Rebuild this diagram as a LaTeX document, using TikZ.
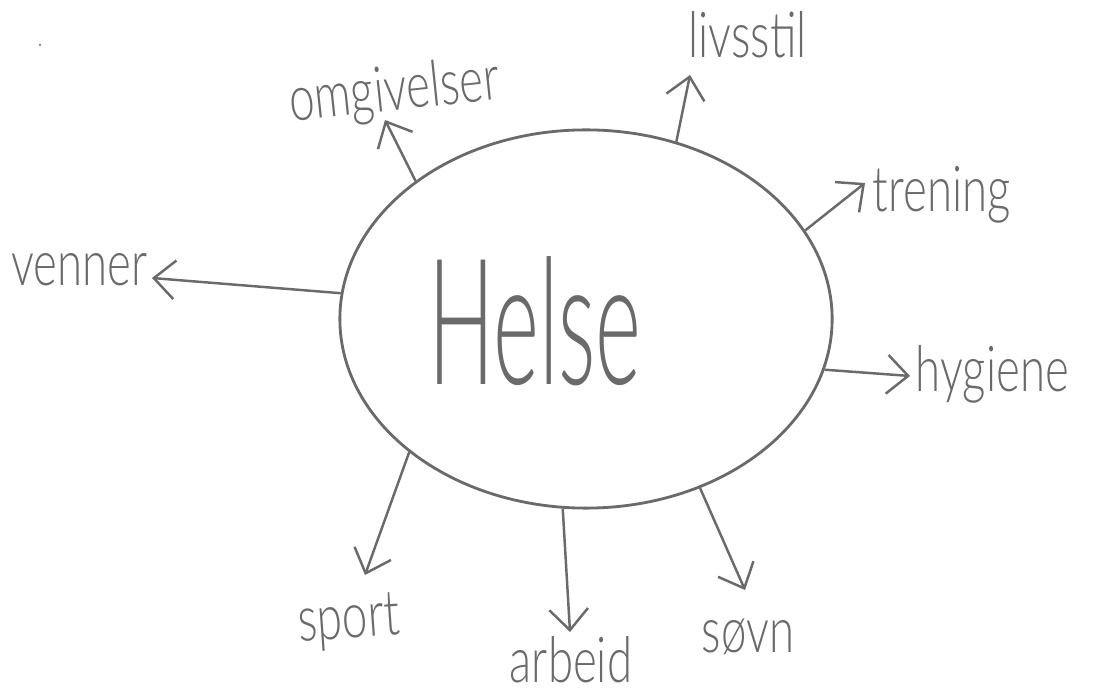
\documentclass[tikz,border=0pt]{standalone}
\usepackage{fontspec}
\setmainfont{Liberation Sans}
\newfontfamily\thinfont{Lato Light}
\usetikzlibrary{shapes.geometric,arrows.meta}
\definecolor{ink}{HTML}{6A6A6A}
\newcommand{\hw}[1]{\scalebox{0.72}[1]{\thinfont\fontsize{18}{18}\selectfont #1}}
\begin{document}
\begin{tikzpicture}[x=0.01cm,y=-0.01cm,
  lab/.style={text=ink,anchor=base,inner sep=0pt},
  arr/.style={draw=ink,line width=0.7pt,-{Straight Barb[length=6pt,width=11pt]}}]
\useasboundingbox (0,0) rectangle (1110,692);
\fill[white] (0,0) rectangle (1110,692);
\node[ellipse,draw=ink,line width=0.8pt,minimum width=4.92cm,minimum height=3.78cm,inner sep=0pt] (h) at (586,319) {};
\node[lab] (helse) at (535,385) {\scalebox{0.5}[1]{\thinfont\fontsize{50}{50}\selectfont Helse}};
\node[lab,anchor=base west] (livsstil) at (688,58) {\hw{livsstil}};
\node[lab,rotate=6] (omg) at (396,110) {\hw{omgivelser}};
\node[lab,anchor=base west] (trening) at (872,212) {\hw{trening}};
\node[lab,anchor=base east] (venner) at (148,286) {\hw{venner}};
\node[lab,anchor=base west] (hygiene) at (915,392) {\hw{hygiene}};
\node[lab,rotate=4] (sport) at (350,638) {\hw{sport}};
\node[lab] (arbeid) at (571,682) {\hw{arbeid}};
\node[lab] (sovn) at (748,652) {\hw{søvn}};
\coordinate (tomg) at (385,120);
\coordinate (tliv) at (690,75);
\coordinate (ttren) at (865,183);
\coordinate (tven) at (152,278);
\coordinate (thyg) at (910,376);
\coordinate (tspo) at (365,575);
\coordinate (tarb) at (570,632);
\coordinate (tsov) at (745,590);
\draw[arr] (h.141) -- (tomg);
\draw[arr] (h.63) -- (tliv);
\draw[arr] (h.22) -- (ttren);
\draw[arr] (h.174) -- (tven);
\draw[arr] (h.-12) -- (thyg);
\draw[arr] (h.217) -- (tspo);
\draw[arr] (h.263) -- (tarb);
\draw[arr] (h.304) -- (tsov);
\fill[ink] (40,45) circle (1.2);
\end{tikzpicture}
\end{document}
